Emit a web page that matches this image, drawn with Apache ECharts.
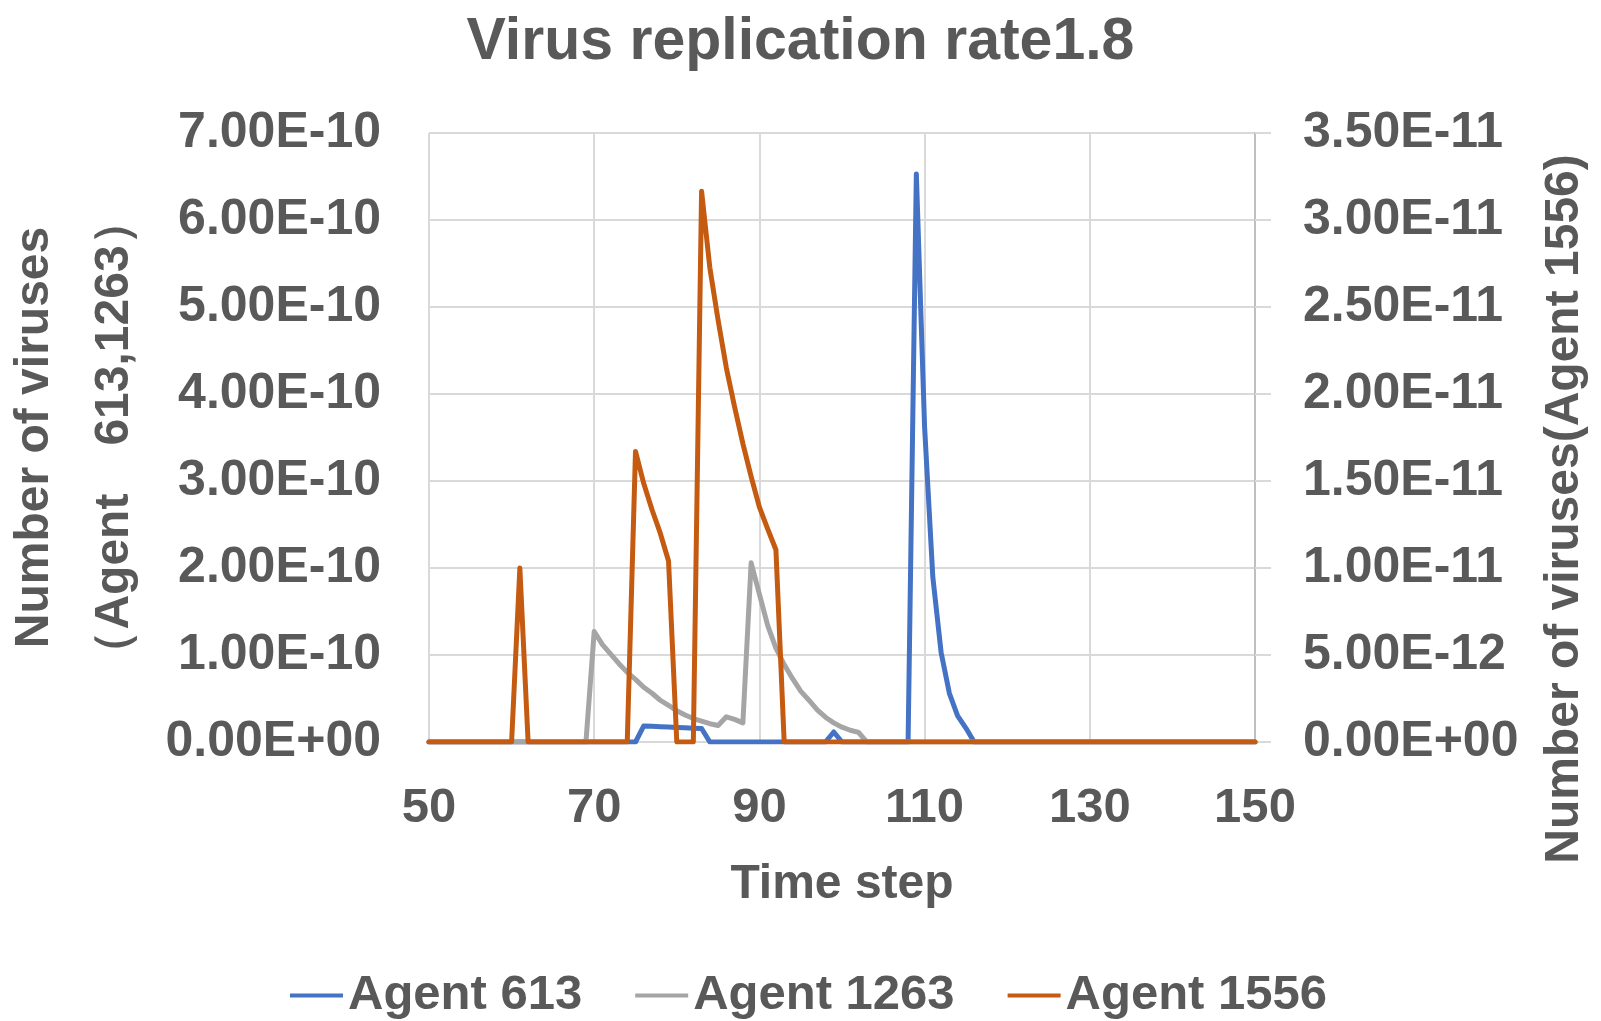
<!DOCTYPE html>
<html>
<head>
<meta charset="utf-8">
<title>Virus replication rate1.8</title>
<script src="https://cdn.jsdelivr.net/npm/echarts@6/dist/echarts.min.js"></script>
<style>
  html, body { margin: 0; padding: 0; background: #ffffff; }
  #chart { width: 1601px; height: 1021px; }
</style>
</head>
<body>
<div id="chart"></div>
<script>
// time steps on the x axis
const timeSteps = [
  50, 51, 52, 53, 54, 55, 56, 57, 58, 59,
  60, 61, 62, 63, 64, 65, 66, 67, 68, 69,
  70, 71, 72, 73, 74, 75, 76, 77, 78, 79,
  80, 81, 82, 83, 84, 85, 86, 87, 88, 89,
  90, 91, 92, 93, 94, 95, 96, 97, 98, 99,
  100, 101, 102, 103, 104, 105, 106, 107, 108, 109,
  110, 111, 112, 113, 114, 115, 116, 117, 118, 119,
  120, 121, 122, 123, 124, 125, 126, 127, 128, 129,
  130, 131, 132, 133, 134, 135, 136, 137, 138, 139,
  140, 141, 142, 143, 144, 145, 146, 147, 148, 149,
  150
];

// Agent 613, in units of 1e-10 (left axis)
const agent613 = [
  0, 0, 0, 0, 0, 0, 0, 0, 0, 0,
  0, 0, 0, 0, 0, 0, 0, 0, 0, 0,
  0, 0, 0, 0, 0, 0, 0.185, 0.18, 0.176, 0.172,
  0.167, 0.163, 0.159, 0.155, 0, 0, 0, 0, 0, 0,
  0, 0, 0, 0, 0, 0, 0, 0, 0, 0.115,
  0, 0, 0, 0, 0, 0, 0, 0, 0, 6.53,
  3.62, 1.89, 1.03, 0.56, 0.30, 0.16, 0, 0, 0, 0,
  0, 0, 0, 0, 0, 0, 0, 0, 0, 0,
  0, 0, 0, 0, 0, 0, 0, 0, 0, 0,
  0, 0, 0, 0, 0, 0, 0, 0, 0, 0,
  0
];

// Agent 1263, in units of 1e-10 (left axis)
const agent1263 = [
  0, 0, 0, 0, 0, 0, 0, 0, 0, 0,
  0, 0, 0, 0, 0, 0, 0, 0, 0, 0,
  1.27, 1.12, 1.01, 0.90, 0.80, 0.72, 0.63, 0.56, 0.48, 0.42,
  0.36, 0.31, 0.27, 0.24, 0.21, 0.19, 0.29, 0.26, 0.22, 2.06,
  1.70, 1.34, 1.08, 0.89, 0.73, 0.585, 0.48, 0.37, 0.285, 0.22,
  0.17, 0.135, 0.11, 0, 0, 0, 0, 0, 0, 0,
  0, 0, 0, 0, 0, 0, 0, 0, 0, 0,
  0, 0, 0, 0, 0, 0, 0, 0, 0, 0,
  0, 0, 0, 0, 0, 0, 0, 0, 0, 0,
  0, 0, 0, 0, 0, 0, 0, 0, 0, 0,
  0
];

// Agent 1556, in units of 1e-11 (right axis)
const agent1556 = [
  0, 0, 0, 0, 0, 0, 0, 0, 0, 0,
  0, 1.0, 0, 0, 0, 0, 0, 0, 0, 0,
  0, 0, 0, 0, 0, 1.67, 1.485, 1.335, 1.20, 1.04,
  0, 0, 0, 3.165, 2.725, 2.425, 2.15, 1.925, 1.715, 1.525,
  1.35, 1.225, 1.105, 0, 0, 0, 0, 0, 0, 0,
  0, 0, 0, 0, 0, 0, 0, 0, 0, 0,
  0, 0, 0, 0, 0, 0, 0, 0, 0, 0,
  0, 0, 0, 0, 0, 0, 0, 0, 0, 0,
  0, 0, 0, 0, 0, 0, 0, 0, 0, 0,
  0, 0, 0, 0, 0, 0, 0, 0, 0, 0,
  0
];

const unitLeft = 1e-10;
const unitRight = 1e-11;

const seriesNames = ['Agent 613', 'Agent 1263', 'Agent 1556'];
const seriesColors = ['#4472C4', '#A5A5A5', '#C55A11'];

const textColor = '#595959';
const fontMain = "'Liberation Sans', Arial, sans-serif";

// 7.00E-10 style labels
function sci(v) {
  if (Math.abs(v) < 1e-30) return '0.00E+00';
  var parts = v.toExponential(2).split('e');
  var exp = parseInt(parts[1], 10);
  var sign = exp < 0 ? '-' : '+';
  var a = Math.abs(exp);
  return parts[0].toUpperCase() + 'E' + sign + (a < 10 ? '0' + a : '' + a);
}

function pairs(values, unit) {
  return timeSteps.map(function (t, i) {
    return [t, values[i] * unit];
  });
}

const chart = echarts.init(document.getElementById('chart'), null, { renderer: 'canvas' });

var lineBase = {
  type: 'line',
  showSymbol: false,
  symbol: 'none',
  animation: false,
  lineStyle: { width: 5, cap: 'round', join: 'round' }
};

var option = {
  backgroundColor: '#ffffff',
  animation: false,
  color: seriesColors,
  title: {
    text: 'Virus replication rate1.8',
    left: 'center',
    top: 8,
    textStyle: {
      fontFamily: fontMain,
      fontSize: 59,
      fontWeight: 'bold',
      color: textColor
    }
  },
  legend: {
    left: 285,
    top: 966,
    icon: 'rect',
    itemWidth: 53,
    itemHeight: 4,
    itemGap: 53,
    textStyle: {
      fontFamily: fontMain,
      fontSize: 49,
      fontWeight: 'bold',
      color: textColor,
      padding: [0, 0, 0, 0]
    },
    data: seriesNames
  },
  grid: {
    left: 429,
    right: 346,
    top: 133,
    bottom: 279,
    containLabel: false,
    outerBoundsMode: 'none'
  },
  xAxis: {
    type: 'value',
    min: 50,
    max: 150,
    interval: 20,
    name: 'Time step',
    nameLocation: 'middle',
    nameGap: 119,
    nameTextStyle: {
      fontFamily: fontMain,
      fontSize: 48,
      fontWeight: 'bold',
      color: textColor
    },
    axisLine: { show: true, lineStyle: { color: '#D9D9D9', width: 2 } },
    axisTick: { show: false },
    axisLabel: {
      margin: 42,
      fontFamily: fontMain,
      fontSize: 49,
      fontWeight: 'bold',
      color: textColor
    },
    splitLine: { show: true, lineStyle: { color: '#D9D9D9', width: 2 } }
  },
  yAxis: [
    {
      type: 'value',
      position: 'left',
      min: 0,
      max: 7e-10,
      interval: 1e-10,
      name: 'Number of viruses\n（Agent　613,1263）',
      nameLocation: 'middle',
      nameRotate: 90,
      nameGap: 267,
      nameTextStyle: {
        fontFamily: fontMain,
        fontSize: 48,
        fontWeight: 'bold',
        color: textColor,
        lineHeight: 80
      },
      axisLine: { show: false },
      axisTick: { show: false },
      axisLabel: {
        margin: 48,
        fontFamily: fontMain,
        fontSize: 50,
        fontWeight: 'bold',
        color: textColor,
        formatter: sci
      },
      splitLine: { show: true, lineStyle: { color: '#D9D9D9', width: 2 } }
    },
    {
      type: 'value',
      position: 'right',
      min: 0,
      max: 3.5e-11,
      interval: 5e-12,
      axisLine: { show: true, lineStyle: { color: '#BFBFBF', width: 2 } },
      axisTick: { show: true, length: 16, lineStyle: { color: '#D9D9D9', width: 2 } },
      axisLabel: {
        margin: 48,
        fontFamily: fontMain,
        fontSize: 50,
        fontWeight: 'bold',
        color: textColor,
        formatter: sci
      },
      splitLine: { show: false }
    }
  ],
  graphic: [
    {
      type: 'text',
      x: 1565,
      y: 509,
      rotation: Math.PI / 2,
      style: {
        text: 'Number of viruses(Agent 1556)',
        font: "bold 48px 'Liberation Sans', Arial, sans-serif",
        fill: textColor,
        align: 'center',
        verticalAlign: 'middle'
      }
    }
  ],
  series: [
    Object.assign({}, lineBase, {
      name: seriesNames[0],
      yAxisIndex: 0,
      data: pairs(agent613, unitLeft)
    }),
    Object.assign({}, lineBase, {
      name: seriesNames[1],
      yAxisIndex: 0,
      data: pairs(agent1263, unitLeft)
    }),
    Object.assign({}, lineBase, {
      name: seriesNames[2],
      yAxisIndex: 1,
      data: pairs(agent1556, unitRight)
    })
  ]
};

chart.setOption(option);
</script>
</body>
</html>
